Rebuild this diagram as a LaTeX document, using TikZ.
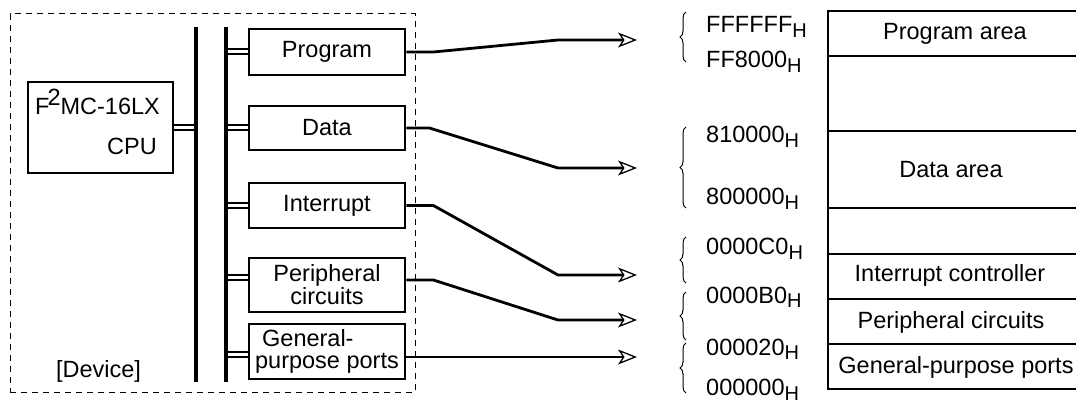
\documentclass[tikz,border=0pt]{standalone}
\usepackage{fontspec}
\setmainfont{Liberation Sans}
\usetikzlibrary{arrows.meta,decorations.pathreplacing,backgrounds}
\newcommand{\subH}{\raisebox{-5pt}{\fontsize{20}{20}\selectfont H}}
\begin{document}
\begin{tikzpicture}[x=1pt,y=-1pt,
  every node/.style={font=\fontsize{23.5}{18}\selectfont},
  blk/.style={draw, line width=2.8pt, minimum width=156pt, inner sep=0pt, align=center},
  txt/.style={inner sep=0pt},
  bus/.style={line width=3.4pt},
  dbl/.style={double, line width=2pt, double distance=3pt},
  conn/.style={line width=2.8pt, -{Stealth[open,length=19pt,width=15pt,inset=5pt,line width=1.3pt]}},
  brc/.style={decorate, decoration={brace, amplitude=6pt}, line width=1pt},
  mem/.style={line width=2.8pt},
  addr/.style={inner sep=0pt, anchor=base west}]
\useasboundingbox (0,0) rectangle (1076,403);

% device frame
\node[draw, dash pattern=on 6pt off 5pt, line width=1pt, minimum width=405pt, minimum height=378pt, inner sep=0pt] (frame) at (212.5,203) {};
\node[txt, anchor=base] (device) at (98.5,377) {[Device]};

% CPU
\node[blk, minimum width=145pt, minimum height=91pt] (cpu) at (100.5,127.5) {};
\node[txt, anchor=base west] (cpuname) at (35,115) {F\kern-2pt\raisebox{9pt}{2}\kern0pt MC-16LX};
\node[txt, anchor=base east] (cpulbl) at (157,155) {CPU};

% blocks
\node[blk, minimum height=46pt] (prog) at (327,52) {Program};
\node[blk, minimum height=44pt] (data) at (327,128) {Data};
\node[blk, minimum height=45pt] (intr) at (327,205.5) {Interrupt};
\node[blk, minimum height=54pt] (peri) at (327,285) {Peripheral\\circuits};
\node[blk, minimum height=55pt, align=left] (gpio) at (327,351.5) {\hspace*{7pt}General-\\[4pt]purpose ports};

% buses
\coordinate (b1t) at (196,27);
\coordinate (b1b) at (196,382);
\coordinate (b2t) at (226,27);
\coordinate (b2b) at (226,382);

\begin{scope}[on background layer]
\draw[dbl] (cpu.east) -- (cpu.east -| b1t);
\draw[dbl] (prog.west) -- (prog.west -| b2t);
\draw[dbl] (data.west) -- (data.west -| b2t);
\draw[dbl] (intr.west) -- (intr.west -| b2t);
\draw[dbl] ([yshift=7pt]peri.west) -- ++(-23,0);
\draw[dbl] ([yshift=-2.5pt]gpio.west) -- ++(-23,0);
\end{scope}
\draw[bus] (b1t) -- (b1b);
\draw[bus] (b2t) -- (b2b);

% arrow ends
\coordinate (a1) at (637,40);
\coordinate (a2) at (637,168);
\coordinate (a3) at (637,275);
\coordinate (a4) at (637,320);
\coordinate (a5) at (637,357);

\draw[conn] (prog.east) -- ++(27,0) -- (558,40) -- (a1);
\draw[conn] (data.east) -- ++(23,0) -- (558,168) -- (a2);
\draw[conn] (intr.east) -- ++(27,0) -- (558,275) -- (a3);
\draw[conn] ([yshift=5pt]peri.east) -- ++(27,0) -- (558,320) -- (a4);
\draw[conn] ([yshift=-5.5pt]gpio.east) -- (a5);

% braces
\draw[brc] (686,62) -- (686,12);
\draw[brc] (686,208) -- (686,127);
\draw[brc] (686,283) -- (686,237);
\draw[brc] (686,340) -- (686,292);
\draw[brc] (686,393) -- (686,343);

% addresses
\node[addr] (ad1) at (706,33) {FFFFFF\subH};
\node[addr] (ad2) at (706,68) {FF8000\subH};
\node[addr] (ad3) at (706,143) {810000\subH};
\node[addr] (ad4) at (706,205) {800000\subH};
\node[addr] (ad5) at (706,255) {0000C0\subH};
\node[addr] (ad6) at (706,303) {0000B0\subH};
\node[addr] (ad7) at (706,355) {000020\subH};
\node[addr] (ad8) at (706,395) {000000\subH};

% memory map
\draw[mem] (1080,11) -- (828,11) -- (828,389) -- (1080,389);
\foreach \yy in {56,131,208,254,299,344}
  \draw[mem] (828,\yy) -- (1080,\yy);
\node[txt, anchor=base] (m1) at (955,40) {Program area};
\node[txt, anchor=base] (m2) at (951,178) {Data area};
\node[txt, anchor=base] (m3) at (950,282) {Interrupt controller};
\node[txt, anchor=base] (m4) at (951,328) {Peripheral circuits};
\node[txt, anchor=base] (m5) at (956,373) {General-purpose ports};
\end{tikzpicture}
\end{document}
